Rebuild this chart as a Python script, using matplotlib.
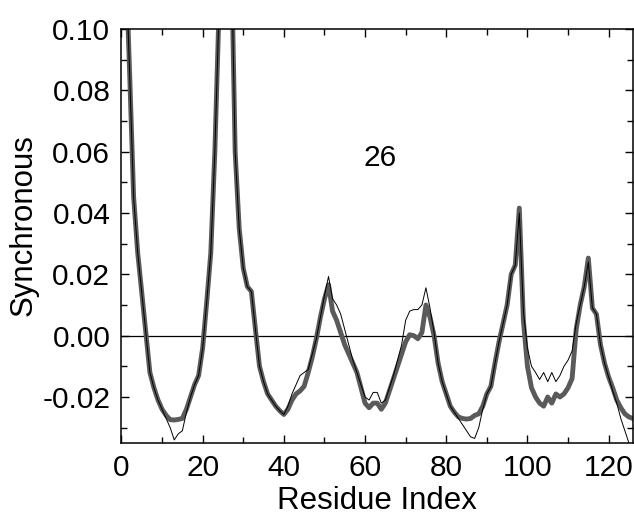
import matplotlib
matplotlib.use("Agg")
import matplotlib.pyplot as plt
from matplotlib.ticker import MultipleLocator
import numpy as np

# residue index and the two synchronous curves
residue = list(range(1, 128))

# thick gray curve
sync_thick = [
    0.125, 0.086, 0.045, 0.027, 0.014, 0.001, -0.012, -0.017, -0.021, -0.024,
    -0.026, -0.0274, -0.0275, -0.0273, -0.027, -0.024, -0.020, -0.016, -0.013, -0.004,
    0.011, 0.027, 0.060, 0.105, 0.16, 0.17, 0.13, 0.06, 0.035, 0.022,
    0.016, 0.0144, 0.002, -0.010, -0.015, -0.019, -0.021, -0.023, -0.0245, -0.0257,
    -0.024, -0.021, -0.019, -0.018, -0.0165, -0.012, -0.007, -0.001, 0.006, 0.012,
    0.0166, 0.008, 0.005, 0.001, -0.003, -0.006, -0.009, -0.012, -0.017, -0.022,
    -0.0235, -0.022, -0.022, -0.024, -0.022, -0.018, -0.014, -0.010, -0.006, -0.002,
    0.0003, 0.000, -0.001, 0.001, 0.010, 0.006, 0.000, -0.009, -0.015, -0.019,
    -0.023, -0.025, -0.0265, -0.027, -0.0272, -0.027, -0.026, -0.0255, -0.023, -0.019,
    -0.0165, -0.009, -0.002, 0.004, 0.010, 0.020, 0.023, 0.0416, 0.005, -0.010,
    -0.017, -0.020, -0.022, -0.023, -0.020, -0.022, -0.019, -0.020, -0.019, -0.017,
    -0.014, 0.002, 0.010, 0.016, 0.0253, 0.009, 0.007, -0.003, -0.009, -0.0135,
    -0.017, -0.021, -0.0235, -0.0255, -0.0265, -0.027, -0.028,
]

# thin black curve
sync_thin = [
    0.125, 0.086, 0.045, 0.027, 0.014, 0.001, -0.012, -0.017, -0.021, -0.024,
    -0.027, -0.030, -0.034, -0.032, -0.031, -0.025, -0.020, -0.016, -0.013, -0.004,
    0.011, 0.027, 0.060, 0.105, 0.16, 0.17, 0.13, 0.06, 0.035, 0.022,
    0.016, 0.0144, 0.002, -0.010, -0.015, -0.019, -0.021, -0.023, -0.0245, -0.0257,
    -0.023, -0.019, -0.016, -0.013, -0.012, -0.011, -0.006, -0.001, 0.006, 0.013,
    0.0193, 0.012, 0.010, 0.007, 0.002, -0.003, -0.008, -0.012, -0.016, -0.020,
    -0.021, -0.0185, -0.0185, -0.022, -0.021, -0.017, -0.013, -0.008, -0.003, 0.005,
    0.008, 0.0085, 0.0085, 0.010, 0.0156, 0.009, 0.001, -0.009, -0.015, -0.019,
    -0.023, -0.025, -0.027, -0.029, -0.031, -0.033, -0.0335, -0.030, -0.024, -0.019,
    -0.0165, -0.009, -0.002, 0.004, 0.010, 0.020, 0.023, 0.040, 0.008, -0.004,
    -0.010, -0.012, -0.0143, -0.012, -0.015, -0.012, -0.015, -0.013, -0.010, -0.008,
    -0.005, 0.004, 0.010, 0.016, 0.024, 0.009, 0.007, -0.003, -0.009, -0.0135,
    -0.018, -0.022, -0.027, -0.031, -0.035, -0.038, -0.040,
]

plt.rcParams['font.family'] = ['Liberation Sans', 'DejaVu Sans']

fig = plt.figure(figsize=(6.34, 5.18), dpi=100)
ax = fig.add_axes([0.1916, 0.1448, 0.8068, 0.7992])

ax.axhline(0, color="black", lw=0.9, zorder=1)
ax.plot(residue, sync_thick, color="#5a5a5a", lw=3.5, solid_joinstyle="round", zorder=2)
ax.plot(residue, sync_thin, color="black", lw=0.7, zorder=3)

ax.text(63.7, 0.058, "26", fontsize=21.5, ha="center", va="center")

ax.set_xlim(0, 126)
ax.set_ylim(-0.035, 0.10)
ax.xaxis.set_major_locator(MultipleLocator(20))
ax.xaxis.set_minor_locator(MultipleLocator(10))
ax.yaxis.set_major_locator(MultipleLocator(0.02))
ax.yaxis.set_minor_locator(MultipleLocator(0.01))
ax.yaxis.set_major_formatter(plt.FuncFormatter(lambda v, p: "%.2f" % v))

ax.tick_params(which="both", direction="in", top=True, right=True, width=1, labelsize=21.5)
ax.tick_params(which="major", length=6, pad=8)
ax.tick_params(which="minor", length=4)
for s in ax.spines.values():
    s.set_linewidth(1.1)

ax.set_xlabel("Residue Index", fontsize=22.5, labelpad=3)
ax.set_ylabel("Synchronous", fontsize=22.5)
ax.yaxis.set_label_coords(-0.162, 0.527)

fig.savefig("out.png", dpi=100)
